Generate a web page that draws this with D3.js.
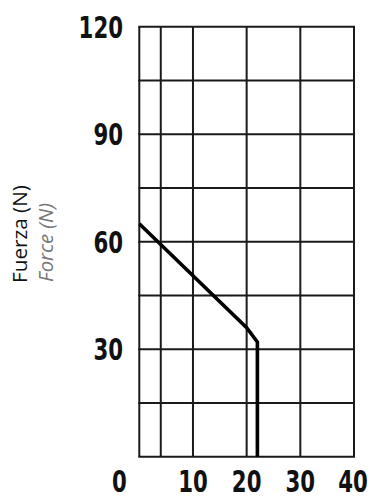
<!DOCTYPE html>
<html><head><meta charset="utf-8">
<script src="https://cdn.jsdelivr.net/npm/d3@7"></script>
<style>
html,body{margin:0;padding:0;background:#fff;}
svg{display:block;}
.tick-num{font-family:"DejaVu Sans Condensed","DejaVu Sans",sans-serif;font-weight:bold;font-size:31px;fill:#111;}
</style></head>
<body>
<svg id="chart" width="373" height="498"></svg>
<script>
// Data
const xGrid = [0, 4, 10, 20, 30, 40];
const yGrid = [0, 15, 30, 45, 60, 75, 90, 105, 120];
const xTickLabels = [0, 10, 20, 30, 40];
const yTickLabels = [30, 60, 90, 120];
const forceX = [0, 20, 22, 22];
const forceY = [65, 36, 32, 0];
const yTitle = "Fuerza (N)";
const yTitleEn = "Force (N)";

const svg = d3.select("#chart");
const x = d3.scaleLinear().domain([0, 40]).range([139.3, 354]);
const y = d3.scaleLinear().domain([0, 120]).range([456.7, 26.7]);

const g = svg.append("g");
// grid
g.selectAll("line.v").data(xGrid).enter().append("line")
  .attr("x1", d => x(d)).attr("x2", d => x(d))
  .attr("y1", y(0)).attr("y2", y(120))
  .attr("stroke", "#1a1a1a").attr("stroke-width", 2);
g.selectAll("line.h").data(yGrid).enter().append("line")
  .attr("y1", d => y(d)).attr("y2", d => y(d))
  .attr("x1", x(0) - 1).attr("x2", x(40) + 1)
  .attr("stroke", "#1a1a1a").attr("stroke-width", 2);

// data line
const pts = forceX.map((v, i) => [v, forceY[i]]);
g.append("path").datum(pts)
  .attr("d", d3.line().x(d => x(d[0])).y(d => y(d[1])))
  .attr("fill", "none").attr("stroke", "#000").attr("stroke-width", 3.6)
  .attr("stroke-linejoin", "miter");

const digitW = 14.8;
// y tick labels
svg.selectAll("text.yt").data(yTickLabels).enter().append("text")
  .attr("class", "tick-num")
  .attr("x", 123).attr("y", d => y(d))
  .attr("dy", "0.36em").attr("text-anchor", "end")
  .attr("textLength", d => String(d).length * digitW)
  .attr("lengthAdjust", "spacingAndGlyphs")
  .text(d => d);

// x tick labels (positions as in original)
const xLabelPos = d => d === 0 ? x(0) - 20 : x(d) - (d === 40 ? 1 : 0);
svg.selectAll("text.xt").data(xTickLabels).enter().append("text")
  .attr("class", "tick-num")
  .attr("x", d => xLabelPos(d)).attr("y", 481)
  .attr("dy", "0.36em").attr("text-anchor", "middle")
  .attr("textLength", d => String(d).length * digitW)
  .attr("lengthAdjust", "spacingAndGlyphs")
  .text(d => d);

// y titles
function fitTitle(txt, tx, ty, len, italic, color) {
  const t = svg.append("text")
    .attr("transform", `translate(${tx},${ty}) rotate(-90)`)
    .attr("font-family", "'Open Sans', sans-serif").attr("font-size", 20)
    .attr("font-style", italic ? "italic" : "normal")
    .attr("fill", color).text(txt);
  const w = t.node().getComputedTextLength();
  t.attr("font-size", 20 * len / w);
}
fitTitle(yTitle, 27, 283, 98, false, "#111");
fitTitle(yTitleEn, 53, 282, 79, true, "#777");
</script>
</body></html>
